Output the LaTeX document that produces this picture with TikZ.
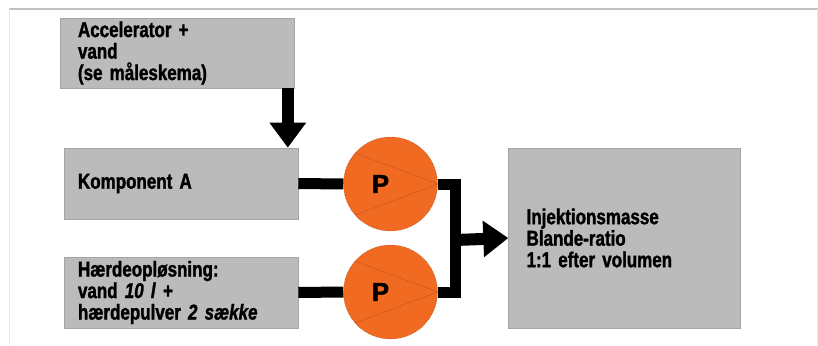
\documentclass[tikz,border=0pt]{standalone}
\usepackage{fontspec}
\setmainfont{Liberation Sans}[FakeStretch=0.79, BoldFeatures={FakeBold=1.5}, BoldItalicFeatures={FakeBold=1.5}]
\newfontfamily\pumpfont{Liberation Sans}[BoldFeatures={FakeBold=1.5}]
\usetikzlibrary{arrows.meta,calc}
\definecolor{boxgrey}{RGB}{187, 187, 187}
\definecolor{boxedge}{RGB}{165, 165, 165}
\definecolor{pumporange}{RGB}{241, 106, 33}
\definecolor{pumpedge}{RGB}{165, 70, 20}
\definecolor{framegrey}{RGB}{192, 192, 192}
\definecolor{framelight}{RGB}{232, 232, 232}

\begin{document}
\begin{tikzpicture}
  [
    x=1pt, y=-1pt,
    font=\fontsize{21.5}{21.5}\selectfont\bfseries,
    box/.style={rectangle, fill=boxgrey, draw=boxedge, line width=0.6pt, align=left},
    pump/.style={circle, fill=pumporange, draw=pumpedge, densely dotted, line width=0.5pt, minimum size=94pt, inner sep=0pt},
    pumpletter/.style={font=\pumpfont\fontsize{26}{26}\selectfont\bfseries, xshift=-10pt},
    valve/.style={pumpedge, densely dotted, line width=0.6pt},
    pipe/.style={line width=11pt},
    feed/.style={line width=12pt, -{Triangle[width=35pt, length=25pt]}}
  ]
  \useasboundingbox (0, 0) rectangle (818, 345);
  \draw[framegrey, line width=1.5pt] (9, 9) -- (818, 9);
  \draw[framelight, line width=1pt] (9.5, 9) -- (9.5, 345);
  \draw[framelight, line width=1pt] (817.3, 9) -- (817.3, 345);

  \node[box, inner xsep=18pt, text width=198pt, minimum height=70pt] (acc) at (177, 53) {Accelerator +\\vand\\(se måleskema)};
  \node[box, inner xsep=14pt, text width=206pt, minimum height=71pt] (kompA) at (181, 183.5) {Komponent A};
  \node[box, inner xsep=14pt, text width=206pt, minimum height=71pt] (haerde) at (181, 292.5) {Hærdeopløsning:\\vand \textit{10 l} +\\hærdepulver \textit{2 sække}};
  \node[box, inner xsep=18pt, text width=196pt, minimum height=180pt] (inj) at (624.6, 238) {Injektionsmasse\\Blande-ratio\\1:1 efter volumen};

  \node[pump, label={[pumpletter]center:P}] (pumpA) at (390.5, 184) {};
  \node[pump, label={[pumpletter]center:P}] (pumpB) at (390.5, 292) {};
  \draw[valve] (pumpA.139) -- (pumpA.east) -- (pumpA.221);
  \draw[valve] (pumpB.139) -- (pumpB.east) -- (pumpB.221);

  \coordinate (drop) at ($(acc.south east) + (-6.5, 0)$);
  \coordinate (join) at (455.7, 240);
  \draw[feed] (drop) -- (drop |- kompA.north);
  \draw[pipe] (kompA.east) -- (pumpA.west);
  \draw[pipe] (haerde.east) -- (pumpB.west);
  \draw[pipe] (pumpA.east) -- (pumpA.east -| join) -- (pumpB.east -| join) -- (pumpB.east);
  \draw[feed] (join) -- (inj.west);
\end{tikzpicture}
\end{document}
